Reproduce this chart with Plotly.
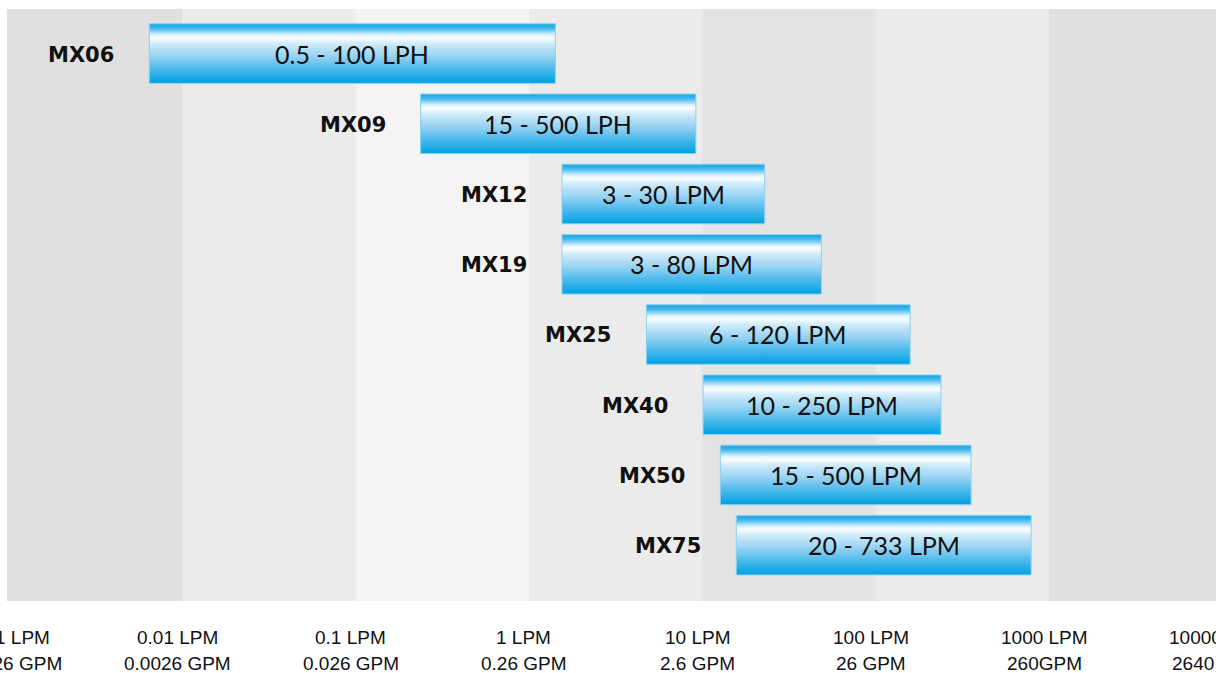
import math
import plotly.graph_objects as go

# ---------------- data ----------------
models = ["MX06", "MX09", "MX12", "MX19", "MX25", "MX40", "MX50", "MX75"]
range_labels = ["0.5 - 100 LPH", "15 - 500 LPH", "3 - 30 LPM", "3 - 80 LPM",
                "6 - 120 LPM", "10 - 250 LPM", "15 - 500 LPM", "20 - 733 LPM"]
# flow range of each bar as drawn, in LPM
flow_min_lpm = [0.00645, 0.237, 1.55, 1.55, 4.76, 10.1, 12.7, 15.7]
flow_max_lpm = [1.42, 9.17, 22.9, 48.6, 158, 238, 355, 788]

tick_values = [0.001, 0.01, 0.1, 1, 10, 100, 1000, 10000]
tick_lpm = ["0.001 LPM", "0.01 LPM", "0.1 LPM", "1 LPM", "10 LPM",
            "100 LPM", "1000 LPM", "10000 LPM"]
tick_gpm = ["0.00026 GPM", "0.0026 GPM", "0.026 GPM", "0.26 GPM", "2.6 GPM",
            "26 GPM", "260GPM", "2640 GPM"]

band_edges = [0.0001, 0.01, 0.1, 1, 10, 100, 1000, 100000]
band_colors = ["#e0e0e0", "#ebebeb", "#f4f4f4", "#ebebeb", "#e3e3e3", "#ebebeb", "#e0e0e0"]

x_range_log = [-3.011, 3.963]

# ---------------- figure ----------------
fig = go.Figure()

half = 0.424
# colours listed from the top edge of a bar (0) to its bottom edge (1)
grad_top_to_bottom = [[0.0, "rgb(15,165,228)"], [0.08, "rgb(70,185,236)"], [0.19, "rgb(225,244,253)"],
                      [0.24, "rgb(250,253,255)"], [0.34, "rgb(205,234,249)"], [0.55, "rgb(150,210,242)"],
                      [0.76, "rgb(75,185,235)"], [1.0, "rgb(0,160,226)"]]
grad = sorted([[1 - p, c] for p, c in grad_top_to_bottom])

for i, (m, lab, a, b) in enumerate(zip(models, range_labels, flow_min_lpm, flow_max_lpm)):
    fig.add_trace(go.Scatter(
        x=[a, b, b, a, a],
        y=[i - half, i - half, i + half, i + half, i - half],
        mode="lines", fill="toself",
        line=dict(color="#8ad2f1", width=1),
        fillgradient=dict(type="vertical", colorscale=grad),
        hoverinfo="skip", showlegend=False,
    ))
    # range label inside bar (centered in log space)
    fig.add_annotation(x=(math.log10(a) + math.log10(b)) / 2, y=i, xref="x", yref="y",
                       text=lab, showarrow=False, xanchor="center", yanchor="middle",
                       font=dict(family="Lato", size=25, color="#111111"))
    # model name to the left of the bar
    fig.add_annotation(x=math.log10(a), y=i, xref="x", yref="y", text=m,
                       showarrow=False, xanchor="right", yanchor="middle", xshift=-33, yshift=-1,
                       font=dict(family="DejaVu Sans", size=21, color="#111111", weight="bold"))

for x0, x1, c in zip(band_edges[:-1], band_edges[1:], band_colors):
    fig.add_shape(type="rect", xref="x", yref="paper", x0=x0, x1=x1, y0=0, y1=1,
                  fillcolor=c, line=dict(width=0), layer="below")

span = x_range_log[1] - x_range_log[0]
for v, t1, t2 in zip(tick_values, tick_lpm, tick_gpm):
    xf = (math.log10(v) - x_range_log[0]) / span
    fig.add_annotation(x=xf, y=0, xref="paper", yref="paper", text=t1,
                       showarrow=False, xanchor="center", yanchor="middle",
                       yshift=-36, xshift=-5,
                       font=dict(family="Liberation Sans", size=19, color="#111111"))
    fig.add_annotation(x=xf, y=0, xref="paper", yref="paper", text=t2,
                       showarrow=False, xanchor="center", yanchor="middle",
                       yshift=-62, xshift=-5,
                       font=dict(family="Liberation Sans", size=19, color="#111111"))

fig.update_layout(
    width=1216, height=673,
    margin=dict(l=7, r=0, t=9, b=72, pad=0),
    paper_bgcolor="white", plot_bgcolor="#ebebeb",
    showlegend=False,
    xaxis=dict(type="log", range=x_range_log, showticklabels=False, ticks="",
               showgrid=False, zeroline=False, showline=False, fixedrange=True),
    yaxis=dict(range=[7.795, -0.635], showticklabels=False, ticks="",
               showgrid=False, zeroline=False, showline=False, fixedrange=True),
)

fig.write_html("out.html", config={"displayModeBar": False},
               post_script="document.body.style.margin='0';document.body.style.overflow='hidden';")
